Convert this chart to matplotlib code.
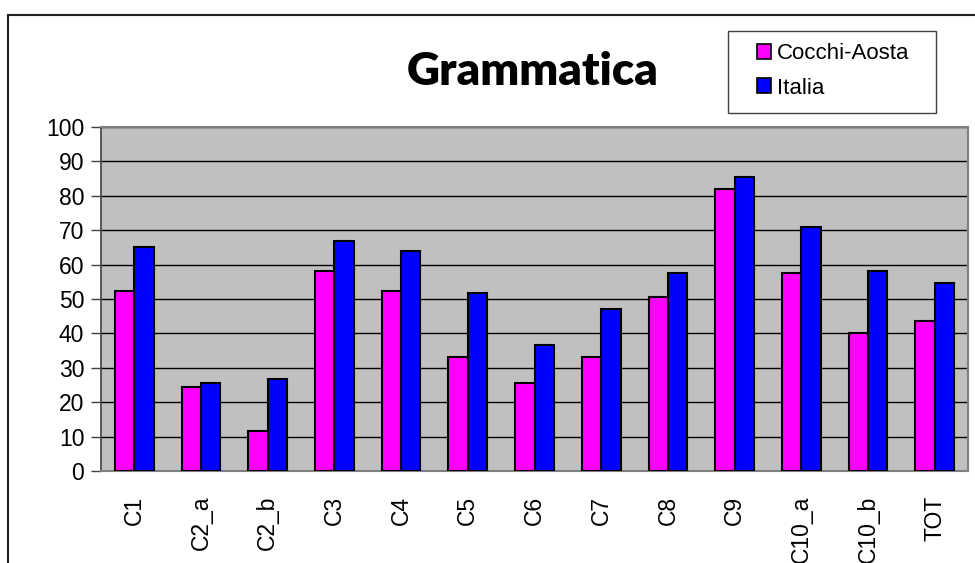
import matplotlib
matplotlib.use('Agg')
import matplotlib.pyplot as plt
import numpy as np
from matplotlib.lines import Line2D
from matplotlib.patches import Patch, Rectangle

categorie = ['C1', 'C2_a', 'C2_b', 'C3', 'C4', 'C5', 'C6', 'C7', 'C8', 'C9', 'C10_a', 'C10_b', 'TOT']
cocchi_aosta = [52.2, 24.4, 11.5, 58.2, 52.2, 33.1, 25.5, 33.1, 50.6, 82.0, 57.6, 40.1, 43.6]
italia = [65.1, 25.6, 26.8, 66.9, 64.0, 51.7, 36.6, 47.1, 57.6, 85.5, 71.0, 58.2, 54.7]
serie = ['Cocchi-Aosta', 'Italia']
colori = ['#FF00FF', '#0000FF']

plt.rcParams['font.family'] = ['Liberation Sans', 'DejaVu Sans']

fig = plt.figure(figsize=(9.75, 5.63), dpi=100)
ax = fig.add_axes([101/975, 1-471/563, (968-101)/975, (471-127)/563])
ax.set_facecolor('#C0C0C0')

x = np.arange(len(categorie))
w = 0.29
ax.bar(x - w/2, cocchi_aosta, w, color=colori[0], edgecolor='black', linewidth=1.5, zorder=3)
ax.bar(x + w/2, italia, w, color=colori[1], edgecolor='black', linewidth=1.5, zorder=3)

ax.set_xlim(-0.5, len(categorie) - 0.5)
ax.set_ylim(0, 100)
ax.set_yticks(range(0, 101, 10))
ax.yaxis.grid(True, color='black', linewidth=1, zorder=1)
ax.set_axisbelow(True)

ax.set_xticks(x)
ax.set_xticklabels(categorie, rotation=90, fontsize=16.5)
ax.tick_params(axis='x', length=0, pad=18)
ax.tick_params(axis='y', length=7, width=1, color='#404040', labelsize=16.5, pad=5)

for s in ['top', 'right']:
    ax.spines[s].set_color('#808080')
    ax.spines[s].set_linewidth(1.5)
ax.spines['left'].set_color('#404040')
ax.spines['bottom'].set_color('#808080')
ax.spines['left'].set_linewidth(1.2)
ax.spines['bottom'].set_linewidth(1.5)

fig.text(533/975, 1-85/563, 'Grammatica', fontsize=33, fontweight='heavy',
         family=['Lato', 'DejaVu Sans'], ha='center', va='baseline')

# riquadro della legenda
fig.add_artist(Rectangle((728/975, 1-113/563), (936-728)/975, (113-31)/563,
                         transform=fig.transFigure, facecolor='white', edgecolor='#404040', linewidth=1))
handles = [Patch(facecolor=c, edgecolor='black', linewidth=1.2) for c in colori]
leg = fig.legend(handles, serie, loc='center left', bbox_to_anchor=(757/975, 1-71/563),
                 fontsize=16, frameon=False, handlelength=0.65, handleheight=0.65,
                 handletextpad=0.25, labelspacing=0.6, borderpad=0, borderaxespad=0)

fig.add_artist(Line2D([8/975, 8/975], [0, 1-15/563], color='#202020', linewidth=1.5))
fig.add_artist(Line2D([8/975, 1], [1-15/563, 1-15/563], color='#202020', linewidth=1.5))

fig.savefig('out.png', dpi=100)
